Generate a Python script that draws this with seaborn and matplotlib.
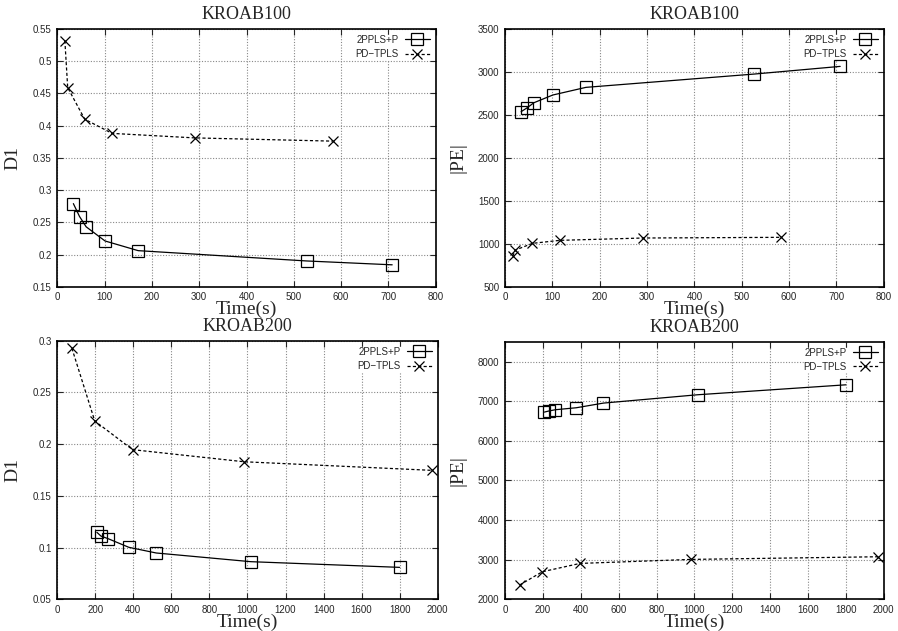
import pandas as pd
import matplotlib
matplotlib.use("Agg")
import matplotlib.pyplot as plt
import seaborn as sns

sns.set_style("ticks")
plt.rcParams['font.family'] = ['Liberation Sans', 'DejaVu Sans']

# KROAB100 data
t100_2ppls = [34, 47, 61, 101, 171, 527, 708]
d1_100_2ppls = [0.279, 0.259, 0.243, 0.221, 0.206, 0.190, 0.184]
pe_100_2ppls = [2538, 2584, 2642, 2732, 2821, 2976, 3065]

t100_pd = [16, 22, 58, 116, 291, 582]
d1_100_pd = [0.532, 0.459, 0.410, 0.388, 0.381, 0.376]
pe_100_pd = [857, 927, 1005, 1040, 1067, 1075]

# KROAB200 data
t200_2ppls = [208, 230, 265, 376, 520, 1017, 1800]
d1_200_2ppls = [0.1148, 0.1111, 0.1088, 0.1003, 0.0948, 0.0864, 0.0809]
pe_200_2ppls = [6724, 6750, 6783, 6833, 6951, 7161, 7412]

t200_pd = [77, 197, 396, 982, 1969]
d1_200_pd = [0.2926, 0.2224, 0.1947, 0.183, 0.1747]
pe_200_pd = [2361, 2696, 2906, 3007, 3074]

panels = [
    # title, ylabel, 2ppls (x, y), pd (x, y), xlim, xticks, ylim, yticks, rect
    ("KROAB100", "D1", (t100_2ppls, d1_100_2ppls), (t100_pd, d1_100_pd),
     (0, 800), range(0, 801, 100), (0.15, 0.55),
     [0.15, 0.2, 0.25, 0.3, 0.35, 0.4, 0.45, 0.5, 0.55],
     [0.0638, 0.5456, 0.4214, 0.4084]),
    ("KROAB100", "|PE|", (t100_2ppls, pe_100_2ppls), (t100_pd, pe_100_pd),
     (0, 800), range(0, 801, 100), (500, 3500), range(500, 3501, 500),
     [0.5624, 0.5456, 0.4217, 0.4084]),
    ("KROAB200", "D1", (t200_2ppls, d1_200_2ppls), (t200_pd, d1_200_pd),
     (0, 2000), range(0, 2001, 200), (0.05, 0.3),
     [0.05, 0.1, 0.15, 0.2, 0.25, 0.3],
     [0.0638, 0.0502, 0.4236, 0.4098]),
    ("KROAB200", "|PE|", (t200_2ppls, pe_200_2ppls), (t200_pd, pe_200_pd),
     (0, 2000), range(0, 2001, 200), (2000, 8500), range(2000, 8001, 1000),
     [0.5624, 0.0502, 0.4217, 0.4083]),
]

fig = plt.figure(figsize=(8.98, 6.31), dpi=100)

for title, ylab, s1, s2, xlim, xt, ylim, yt, rect in panels:
    ax = fig.add_axes(rect)
    df1 = pd.DataFrame({"x": s1[0], "y": s1[1]})
    df2 = pd.DataFrame({"x": s2[0], "y": s2[1]})
    sns.lineplot(data=df1, x="x", y="y", ax=ax, color="black", lw=0.9,
                 marker="s", markersize=8, markerfacecolor="none",
                 markeredgecolor="black", markeredgewidth=0.9,
                 label="2PPLS+P", sort=False, zorder=3)
    sns.lineplot(data=df2, x="x", y="y", ax=ax, color="black", lw=0.9,
                 linestyle=(0, (2.5, 1.8)), marker="x", markersize=7,
                 markeredgecolor="black", markeredgewidth=0.9,
                 label="PD\u2212TPLS", sort=False, zorder=3)
    ax.set_xlim(*xlim)
    ax.set_ylim(*ylim)
    ax.set_xticks(list(xt))
    ax.set_yticks(list(yt))
    ax.set_yticklabels([f"{v:g}" for v in yt])
    ax.grid(True, linestyle=(0, (1, 1.5)), color="#888888", lw=0.8)
    ax.tick_params(direction="in", length=4, labelsize=7, top=True,
                   right=True, pad=4)
    for sp in ax.spines.values():
        sp.set_linewidth(1.2)
        sp.set_color("black")
    ax.set_title(title, family="Liberation Serif", fontsize=13, pad=7)
    ax.set_xlabel("Time(s)", family="Liberation Serif", fontsize=14,
                  labelpad=-1)
    ax.set_ylabel(ylab, family="Liberation Serif", fontsize=14, labelpad=8)
    leg = ax.legend(loc="upper right", markerfirst=False, fontsize=7,
                    frameon=True, fancybox=False, handlelength=2.6,
                    borderaxespad=0.6, borderpad=0.0, labelspacing=0.45,
                    handletextpad=0.6)
    leg.get_frame().set_edgecolor("white")
    leg.get_frame().set_facecolor("white")
    leg.get_frame().set_alpha(1)
    leg.set_zorder(2.5)

fig.savefig("out.png", dpi=100)
